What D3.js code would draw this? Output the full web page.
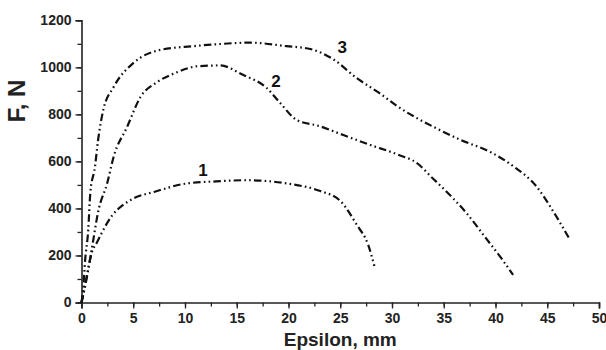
<!DOCTYPE html>
<html>
<head>
<meta charset="utf-8">
<script src="https://cdn.jsdelivr.net/npm/d3@7"></script>
<style>
  html, body { margin: 0; padding: 0; background: #fff; }
  svg { display: block; font-family: "Liberation Sans", Arial, sans-serif; }
  .tick-label { font-size: 14px; font-weight: bold; fill: #222; }
  .axis-title { font-weight: bold; fill: #222; }
  .curve { fill: none; stroke: #111; stroke-width: 2.2; stroke-dasharray: 7.5 3.2 1.6 3.2 1.6 3.2; }
  .curve-label { font-size: 17px; font-weight: bold; fill: #111; }
</style>
</head>
<body>
<svg id="chart" width="606" height="350"></svg>
<script>
// curve 1
const eps1 = [0, 0.3, 0.65, 1, 1.5, 2, 3, 4, 5, 7, 10, 13, 16, 20, 23, 25, 26.6, 27.7, 28.3];
const force1 = [0, 60, 146, 213, 256, 300, 372, 414, 442, 470, 505, 515, 520, 505, 475, 432, 330, 245, 155];

// curve 2
const eps2 = [0, 0.3, 0.65, 1.1, 1.6, 2.5, 3.1, 4.4, 5.7, 7.3, 9, 11.3, 13.4, 15.6, 17.9, 19.2, 20.8, 23, 25.3, 27.9, 30.5, 32.5, 33.8, 35.3, 37.2, 39, 40.7, 41.7];
const force2 = [0, 60, 138, 256, 384, 510, 619, 746, 874, 937, 975, 1005, 1008, 968, 912, 848, 776, 750, 712, 670, 630, 590, 534, 470, 380, 278, 180, 117];

// curve 3
const eps3 = [0, 0.15, 0.35, 0.65, 0.85, 1.3, 1.6, 2.1, 3.1, 5, 7.6, 10.8, 13, 16.3, 19.8, 22.1, 24.3, 26.6, 28.8, 30.5, 34, 36.7, 39.5, 41.7, 44, 45.5, 47.2];
const force3 = [0, 53, 180, 308, 465, 577, 690, 818, 916, 1018, 1074, 1090, 1098, 1105, 1090, 1078, 1035, 954, 890, 835, 747, 690, 640, 580, 491, 393, 266];

const curveNames = ["1", "2", "3"];
const labelEps = [11.74, 18.8, 25.2];
const labelForce = [536, 916, 1063];

const xTicks = [0, 5, 10, 15, 20, 25, 30, 35, 40, 45, 50];
const yTicks = [0, 200, 400, 600, 800, 1000, 1200];

const svg = d3.select("#chart");
const margin = { top: 20.3, right: 7, bottom: 47.5, left: 81.5 };
const W = 606, H = 350;

const x = d3.scaleLinear().domain([0, 50]).range([margin.left, W - margin.right]);
const y = d3.scaleLinear().domain([0, 1200]).range([H - margin.bottom, margin.top]);

// x axis: minor ticks every 2.5, labelled ticks every 5
const xAxis = svg.append("g").attr("transform", `translate(0,${y(0)})`);
xAxis.call(d3.axisBottom(x).tickValues(d3.range(0, 50.01, 2.5)).tickSize(4).tickFormat(""))
  .call((g) => g.select(".domain").remove())
  .call((g) => g.selectAll(".tick line").attr("stroke", "#222").attr("stroke-width", 1.3));
xAxis.append("g")
  .call(d3.axisBottom(x).tickValues(xTicks).tickSize(6).tickPadding(5).tickFormat(d3.format("d")))
  .call((g) => g.select(".domain").attr("stroke", "#222").attr("stroke-width", 1.6))
  .call((g) => g.selectAll(".tick line").attr("stroke", "#222").attr("stroke-width", 1.3))
  .call((g) => g.selectAll(".tick text").attr("class", "tick-label").attr("font-family", null).attr("font-size", null).attr("fill", null));

// y axis: minor ticks every 100
const yAxis = svg.append("g").attr("transform", `translate(${x(0)},0)`);
yAxis.call(d3.axisLeft(y).tickValues(d3.range(0, 1200.1, 100)).tickSize(4).tickFormat(""))
  .call((g) => g.select(".domain").remove())
  .call((g) => g.selectAll(".tick line").attr("stroke", "#222").attr("stroke-width", 1.3));
yAxis.append("g")
  .call(d3.axisLeft(y).tickValues(yTicks).tickSize(6).tickPadding(4).tickFormat(d3.format("d")))
  .call((g) => g.select(".domain").attr("stroke", "#222").attr("stroke-width", 1.6))
  .call((g) => g.selectAll(".tick line").attr("stroke", "#222").attr("stroke-width", 1.3))
  .call((g) => g.selectAll(".tick text").attr("class", "tick-label").attr("font-family", null).attr("font-size", null).attr("fill", null));

// axis titles
svg.append("text")
  .attr("class", "axis-title")
  .attr("x", (x(0) + x(50)) / 2)
  .attr("y", 346)
  .attr("text-anchor", "middle")
  .attr("font-size", 19)
  .text("Epsilon, mm");

svg.append("text")
  .attr("class", "axis-title")
  .attr("transform", "translate(25,101) rotate(-90)")
  .attr("text-anchor", "middle")
  .attr("font-size", 24)
  .text("F, N");

// curves
const series = [
  eps1.map((e, i) => ({ e, f: force1[i] })),
  eps2.map((e, i) => ({ e, f: force2[i] })),
  eps3.map((e, i) => ({ e, f: force3[i] }))
];

const line = d3.line()
  .x((d) => x(d.e))
  .y((d) => y(d.f))
  .curve(d3.curveMonotoneX);

series.forEach((s) => {
  svg.append("path").datum(s).attr("class", "curve").attr("d", line);
});

curveNames.forEach((name, i) => {
  svg.append("text")
    .attr("class", "curve-label")
    .attr("x", x(labelEps[i]))
    .attr("y", y(labelForce[i]))
    .attr("text-anchor", "middle")
    .text(name);
});
</script>
</body>
</html>
